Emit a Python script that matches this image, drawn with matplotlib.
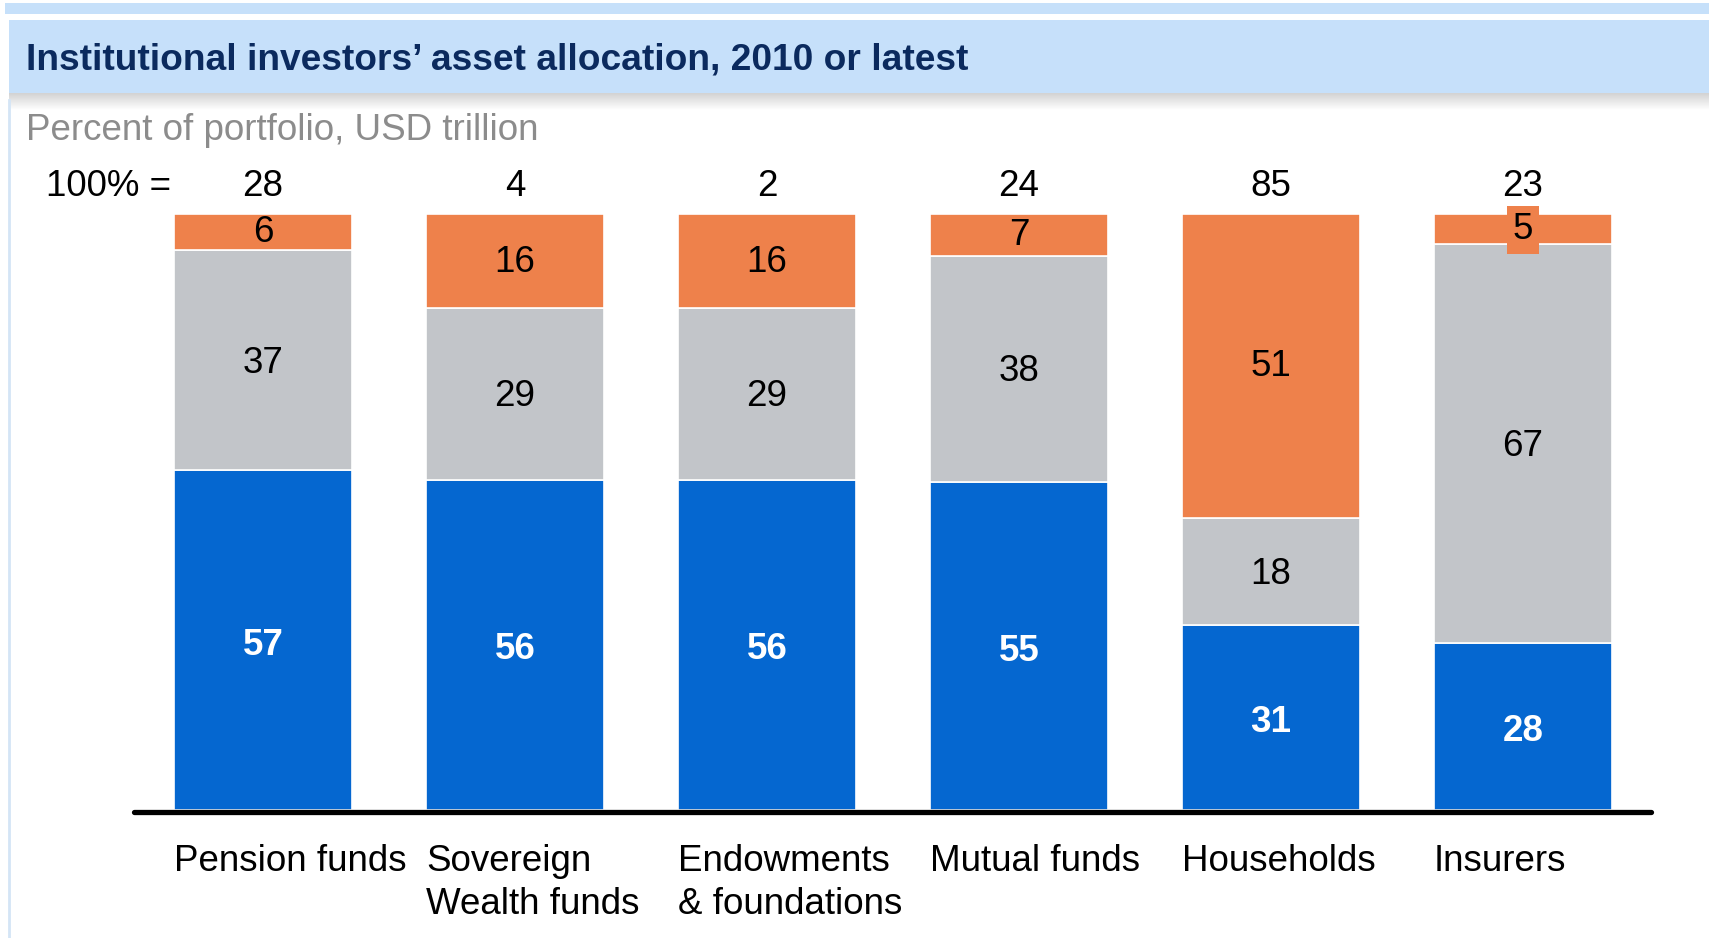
import matplotlib
matplotlib.use("Agg")
import matplotlib.pyplot as plt
import matplotlib.transforms as mtransforms
import numpy as np
from matplotlib.patches import Rectangle

# ---- data ----
categories = ["Pension funds", "Sovereign\nWealth funds", "Endowments\n& foundations",
              "Mutual funds", "Households", "Insurers"]
totals = [28, 4, 2, 24, 85, 23]
blue_vals = [57, 56, 56, 55, 31, 28]
gray_vals = [37, 29, 29, 38, 18, 67]
orange_vals = [6, 16, 16, 7, 51, 5]

title = "Institutional investors\u2019 asset allocation, 2010 or latest"
subtitle = "Percent of portfolio, USD trillion"

BLUE = "#0567D0"
GRAY = "#C2C5C9"
ORANGE = "#EE814B"
BAND = "#C6E0FA"
NAVY = "#0B2A5E"
FS = 26.5

W, H = 1709, 938
fig = plt.figure(figsize=(W / 100, H / 100), dpi=100)
plt.rcParams['font.family'] = ['Liberation Sans', 'DejaVu Sans']

# background axes in pixel coordinates
bg = fig.add_axes([0, 0, 1, 1])
bg.set_xlim(0, W)
bg.set_ylim(H, 0)
bg.axis("off")

bg.add_patch(Rectangle((5, 3), W - 5, 11, color=BAND, lw=0))
bg.add_patch(Rectangle((9, 20), W - 9, 73, color=BAND, lw=0))
# shadow under title band
grad = np.linspace(0.32, 0.0, 50).reshape(-1, 1)
rgba = np.zeros((50, 1, 4))
rgba[..., :3] = 0.45
rgba[..., 3] = grad
bg.imshow(rgba, extent=(9, W, 110, 93), aspect="auto", interpolation="bilinear", zorder=1)
bg.plot([9, 9], [100, H], color="#D4E5F6", lw=2, zorder=1)

bg.text(26, 60, title, fontsize=26.7, fontweight="bold", color=NAVY, va="center", ha="left")
bg.text(26, 131, subtitle, fontsize=FS, color="#8C8C8C", va="center", ha="left")
bg.text(46, 186, "100% =", fontsize=FS, color="black", va="center", ha="left")

# chart axes
left_px, right_px = 134, 1651
top_px, bot_px = 214, 810
ax = fig.add_axes([left_px / W, (H - bot_px) / H, (right_px - left_px) / W, (bot_px - top_px) / H])
ax.set_xlim(-0.512, 5.508)
ax.set_ylim(0, 100)
ax.axis("off")

x = np.arange(len(categories))
sums = np.array(blue_vals) + np.array(gray_vals) + np.array(orange_vals)
b = np.array(blue_vals) / sums * 100
g = np.array(gray_vals) / sums * 100
o = np.array(orange_vals) / sums * 100
width = 0.706

ax.bar(x, b, width, color=BLUE, edgecolor="white", linewidth=1.2)
ax.bar(x, g, width, bottom=b, color=GRAY, edgecolor="white", linewidth=1.2)
ax.bar(x, o, width, bottom=b + g, color=ORANGE, edgecolor="white", linewidth=1.2)

ax.axhline(-0.4, color="black", lw=3.8, solid_capstyle="round", clip_on=False, zorder=5)

for i in range(len(categories)):
    ax.annotate(str(blue_vals[i]), (x[i], b[i] / 2), xytext=(0, -5), textcoords="offset pixels",
                ha="center", va="center", fontsize=FS, fontweight="bold", color="white")
    ax.annotate(str(gray_vals[i]), (x[i], b[i] + g[i] / 2), xytext=(0, -3), textcoords="offset pixels",
                ha="center", va="center", fontsize=FS, color="black")
    kw = {}
    if o[i] < 6:
        kw["bbox"] = dict(boxstyle="square,pad=0.17", fc=ORANGE, ec="none")
    ax.annotate(str(orange_vals[i]), (x[i], b[i] + g[i] + o[i] / 2), xytext=(0, -1),
                textcoords="offset pixels", ha="center", va="center",
                fontsize=FS, color="black", **kw)

trans = mtransforms.blended_transform_factory(ax.transData, bg.transData)
for i in range(len(categories)):
    ax.text(x[i], 186, str(totals[i]), transform=trans, ha="center", va="center",
            fontsize=FS, color="black", clip_on=False)
    ax.text(x[i] - width / 2, 844, categories[i], transform=trans, ha="left", va="top",
            fontsize=FS, color="black", linespacing=1.3, clip_on=False)

fig.savefig("out.png", dpi=100)
